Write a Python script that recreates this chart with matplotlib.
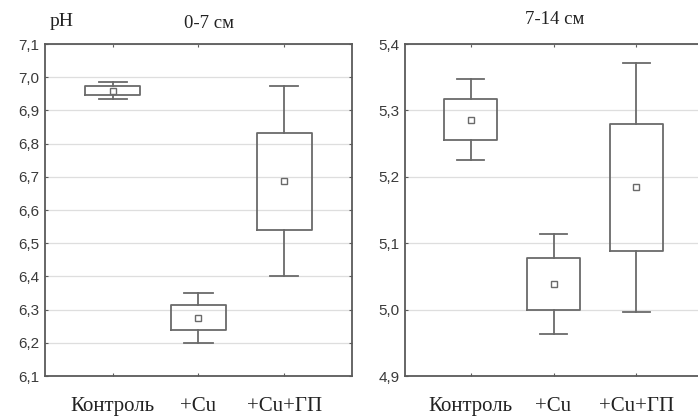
import matplotlib.pyplot as plt
from matplotlib.ticker import FixedLocator, FixedFormatter

# groups and box statistics (mean, box = mean +/- SE, whiskers = mean +/- 1.96 SE)
groups = ["Контроль", "+Cu", "+Cu+ГП"]

# 0-7 cm layer
top_mean = [6.959, 6.275, 6.687]
top_box_lo = [6.945, 6.238, 6.540]
top_box_hi = [6.973, 6.314, 6.833]
top_whis_lo = [6.933, 6.199, 6.400]
top_whis_hi = [6.986, 6.350, 6.974]
top_yticks = [6.1, 6.2, 6.3, 6.4, 6.5, 6.6, 6.7, 6.8, 6.9, 7.0, 7.1]

# 7-14 cm layer
sub_mean = [5.286, 5.038, 5.184]
sub_box_lo = [5.256, 5.000, 5.089]
sub_box_hi = [5.317, 5.077, 5.279]
sub_whis_lo = [5.225, 4.964, 4.997]
sub_whis_hi = [5.347, 5.114, 5.371]
sub_yticks = [4.9, 5.0, 5.1, 5.2, 5.3, 5.4]

W, H = 698, 419
LINE = "#6a6a6a"
SPINE = "#5a5a5a"
TEXT = "#222222"
GRID = "#dedede"


def make_stats(mean, lo, hi, wlo, whi):
    return [dict(med=m, mean=m, q1=a, q3=b, whislo=c, whishi=d, fliers=[])
            for m, a, b, c, d in zip(mean, lo, hi, wlo, whi)]


def draw_panel(ax, stats, yticks):
    pos = list(range(1, len(groups) + 1))
    ax.bxp(stats, positions=pos, widths=0.64, capwidths=0.33,
           showmeans=True, showfliers=False, patch_artist=False,
           boxprops=dict(color=LINE, linewidth=1.3),
           whiskerprops=dict(color=LINE, linewidth=1.3),
           capprops=dict(color=LINE, linewidth=1.3),
           medianprops=dict(linestyle="none"),
           meanprops=dict(marker="s", markersize=4, markerfacecolor="white",
                          markeredgecolor=LINE, markeredgewidth=1.0))
    ax.set_xlim(0.21, 3.79)
    ax.set_ylim(yticks[0], yticks[-1])
    ax.yaxis.set_major_locator(FixedLocator(yticks))
    ax.yaxis.set_major_formatter(FixedFormatter([f"{t:.1f}".replace(".", ",") for t in yticks]))
    ax.set_xticks(pos)
    ax.set_xticklabels(groups, fontfamily="Liberation Serif", fontsize=15, color=TEXT)
    ax.grid(axis="y", color=GRID, linewidth=0.9)
    ax.set_axisbelow(True)
    ax.tick_params(axis="both", direction="in", top=True, right=True,
                   length=2.5, width=0.8, color=SPINE)
    ax.tick_params(axis="x", pad=15)
    ax.tick_params(axis="y", pad=4, labelsize=11, labelcolor="#3a3a3a")
    for lab in ax.get_yticklabels():
        lab.set_fontfamily("Liberation Sans")
    for s in ax.spines.values():
        s.set_color(SPINE)
        s.set_linewidth(1.3)


fig = plt.figure(figsize=(W / 100, H / 100), dpi=100)
ax1 = fig.add_axes([45 / W, (H - 376) / H, 307 / W, 332 / H])
ax2 = fig.add_axes([405 / W, (H - 376) / H, 297 / W, 332 / H])

draw_panel(ax1, make_stats(top_mean, top_box_lo, top_box_hi, top_whis_lo, top_whis_hi), top_yticks)
draw_panel(ax2, make_stats(sub_mean, sub_box_lo, sub_box_hi, sub_whis_lo, sub_whis_hi), sub_yticks)

fig.text(62 / W, 1 - 22 / H, "pH", ha="center", va="center",
         fontfamily="Liberation Serif", fontsize=14, color=TEXT)
fig.text(209 / W, 1 - 24 / H, "0-7 см", ha="center", va="center",
         fontfamily="Liberation Serif", fontsize=13.5, color=TEXT)
fig.text(555 / W, 1 - 20 / H, "7-14 см", ha="center", va="center",
         fontfamily="Liberation Serif", fontsize=13.5, color=TEXT)

fig.savefig("out.png", dpi=100)
